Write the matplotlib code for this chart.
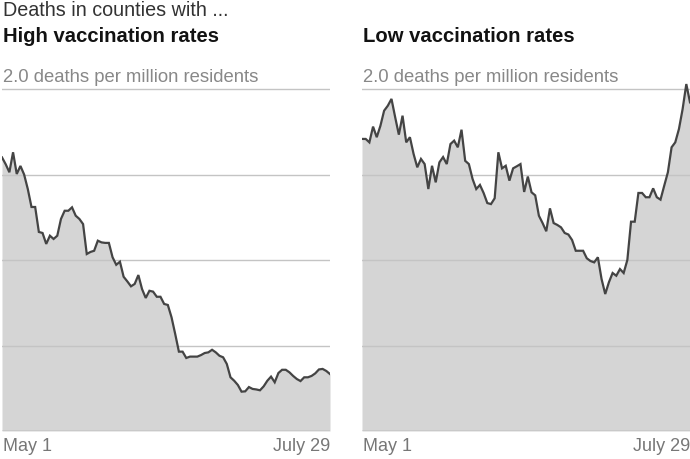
import matplotlib
matplotlib.use("Agg")
import matplotlib.pyplot as plt
import numpy as np

# ---- data ----
start_label = "May 1"
end_label = "July 29"
panel_titles = ["High vaccination rates", "Low vaccination rates"]
header = "Deaths in counties with ..."
unit_label = "2.0 deaths per million residents"
grid_values = [0.5, 1.0, 1.5, 2.0]

high_vax = [1.60, 1.56, 1.513, 1.63, 1.503, 1.55, 1.50, 1.415, 1.31, 1.31,
            1.164, 1.158, 1.094, 1.142, 1.123, 1.142, 1.24, 1.288, 1.288, 1.308,
            1.259, 1.24, 1.21, 1.035, 1.047, 1.054, 1.113, 1.103, 1.10, 1.10,
            1.016, 0.972, 0.99, 0.902, 0.875, 0.846, 0.86, 0.912, 0.83, 0.778,
            0.82, 0.815, 0.785, 0.785, 0.743, 0.737, 0.665, 0.567, 0.464, 0.464,
            0.427, 0.435, 0.435, 0.435, 0.444, 0.456, 0.46, 0.475, 0.46, 0.44,
            0.431, 0.392, 0.314, 0.294, 0.269, 0.23, 0.232, 0.257, 0.246, 0.243,
            0.238, 0.261, 0.294, 0.318, 0.285, 0.339, 0.358, 0.358, 0.343, 0.322,
            0.304, 0.292, 0.314, 0.314, 0.322, 0.337, 0.36, 0.363, 0.351, 0.333]

low_vax = [1.708, 1.708, 1.688, 1.78, 1.718, 1.785, 1.873, 1.902, 1.942, 1.835,
           1.733, 1.844, 1.688, 1.718, 1.62, 1.542, 1.591, 1.561, 1.415, 1.551,
           1.454, 1.571, 1.602, 1.561, 1.678, 1.698, 1.659, 1.762, 1.58, 1.561,
           1.474, 1.415, 1.439, 1.392, 1.333, 1.327, 1.361, 1.63, 1.536, 1.551,
           1.464, 1.536, 1.548, 1.561, 1.398, 1.488, 1.396, 1.378, 1.259, 1.216,
           1.168, 1.302, 1.216, 1.205, 1.191, 1.158, 1.149, 1.117, 1.054, 1.054,
           1.054, 1.01, 0.994, 0.986, 1.016, 0.889, 0.801, 0.87, 0.924, 0.908,
           0.947, 0.924, 1.0, 1.224, 1.224, 1.392, 1.392, 1.367, 1.367, 1.419,
           1.367, 1.353, 1.434, 1.513, 1.659, 1.688, 1.766, 1.883, 2.029, 1.922]

series = [high_vax, low_vax]

# ---- style ----
FONT = ['Liberation Sans Narrow', 'Liberation Sans', 'DejaVu Sans']
plt.rcParams['font.family'] = FONT

W, H = 690, 460
fig = plt.figure(figsize=(W / 100, H / 100), dpi=100)

YMAX = 2.1
base_px = 432
px_per_unit = 171.0
top_px = base_px - YMAX * px_per_unit

panel_x = [(2, 330), (362, 690)]

for i, (x0, x1) in enumerate(panel_x):
    ax = fig.add_axes([x0 / W, 1 - base_px / H, (x1 - x0) / W, (base_px - top_px) / H])
    vals = np.array(series[i])
    days = np.arange(len(vals))
    ax.fill_between(days, 0, vals, color='#d5d5d5', lw=0, zorder=1)
    for g in grid_values:
        ax.axhline(g, color='#c4c4c4', lw=1.0, zorder=2)
    ax.axhline(0, color='#999999', lw=1.0, zorder=2)
    ax.plot(days, vals, color='#444444', lw=1.6, zorder=3, solid_joinstyle='miter')
    ax.set_xlim(0, len(vals) - 1)
    ax.set_ylim(0, YMAX)
    ax.axis('off')
    # labels
    fig.text((x0 + 1) / W, 1 - 77 / H, unit_label, color='#888888', fontsize=13.3,
             va='center', ha='left')
    fig.text((x0 + 1) / W, 1 - 447 / H, start_label, color='#777777', fontsize=13,
             va='center', ha='left')
    fig.text(x1 / W, 1 - 447 / H, end_label, color='#777777', fontsize=13,
             va='center', ha='right')
    fig.text((x0 + 1) / W, 1 - 36 / H, panel_titles[i], color='#121212', fontsize=14.6,
             fontweight='bold', va='center', ha='left')

fig.text(3 / W, 1 - 10 / H, header, color='#333333', fontsize=14.2, va='center', ha='left')

fig.savefig('out.png', dpi=100)
